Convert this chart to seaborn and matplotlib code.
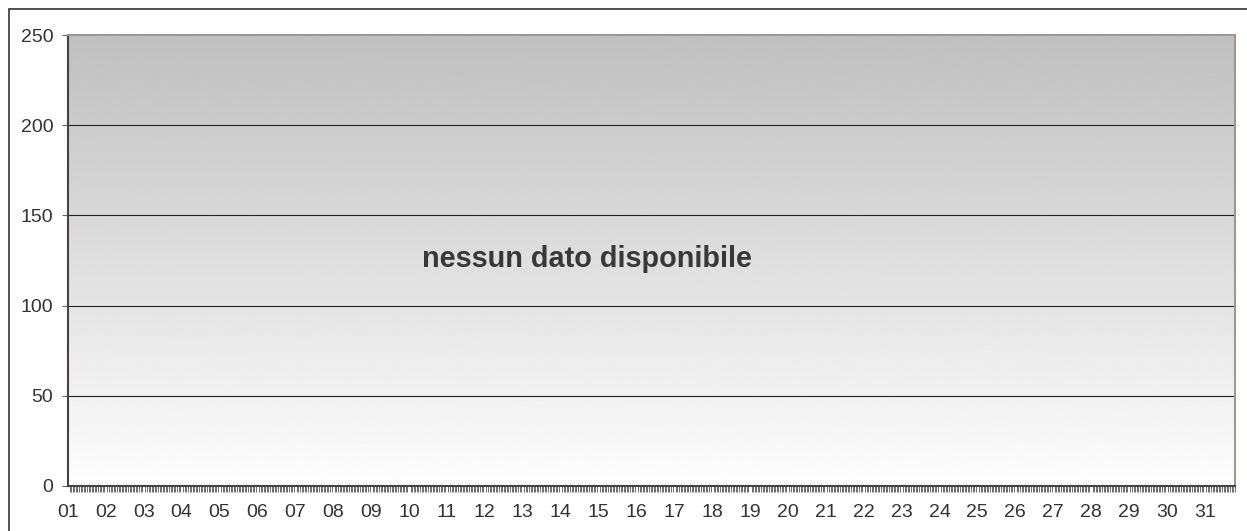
import numpy as np
import pandas as pd
import matplotlib
matplotlib.use('Agg')
import matplotlib.pyplot as plt
import seaborn as sns
from matplotlib.patches import Rectangle

# giorni del mese e valori (nessun dato)
days = [f'{d:02d}' for d in range(1, 32)]
values = []
hours = []
y_ticks = [0, 50, 100, 150, 200, 250]
message = 'nessun dato disponibile'

sns.set_style('white')
plt.rcParams['font.family'] = ['Liberation Sans', 'DejaVu Sans']

fig = plt.figure(figsize=(12.47, 5.31), dpi=100)
ax = fig.add_axes([68/1247, 1-486/531, (1235-68)/1247, (486-35)/531])

# outer frame
fig.patches.append(Rectangle((9/1247, -0.1), 1.2, 1.1 - 9/531,
                             transform=fig.transFigure, fill=False,
                             edgecolor='#333333', linewidth=1.2))

df = pd.DataFrame({'ora': hours, 'valore': values}, dtype=float)
sns.lineplot(data=df, x='ora', y='valore', ax=ax)

xmax = 30.8
ax.set_xlim(0, xmax)
ax.set_ylim(0, 250)

# gradient background
grad = np.linspace(0.995, 0.75, 256).reshape(-1, 1)
ax.imshow(grad, cmap='gray', vmin=0, vmax=1, aspect='auto',
          extent=[0, xmax, 0, 250], origin='lower', zorder=0)

for y in y_ticks[1:-1]:
    ax.axhline(y, color='#222222', linewidth=0.8, zorder=1)

ax.set_yticks(y_ticks)
ax.set_xticks(range(len(days)))
ax.set_xticklabels(days)
ax.set_xticks(np.arange(0, xmax, 1/24), minor=True)
ax.tick_params(axis='y', which='major', length=4.5, width=0.8, color='#666666',
               labelsize=14, labelcolor='#333333', pad=6, left=True)
ax.tick_params(axis='x', which='major', length=0, labelsize=14,
               labelcolor='#333333', pad=13, bottom=True)
ax.tick_params(axis='x', which='minor', length=4, width=0.6, color='#555555',
               bottom=True)

ax.set_xlabel('')
ax.set_ylabel('')
for s in ['left', 'bottom']:
    ax.spines[s].set_color('#4a4040')
    ax.spines[s].set_linewidth(1.5)
for s in ['top', 'right']:
    ax.spines[s].set_color('#a09890')
    ax.spines[s].set_linewidth(1.5)

ax.text(0.445, 126, message, transform=ax.get_yaxis_transform(),
        ha='center', va='center', fontsize=20.8, fontweight='bold',
        color='#383838')

fig.savefig('out.png', dpi=100)
